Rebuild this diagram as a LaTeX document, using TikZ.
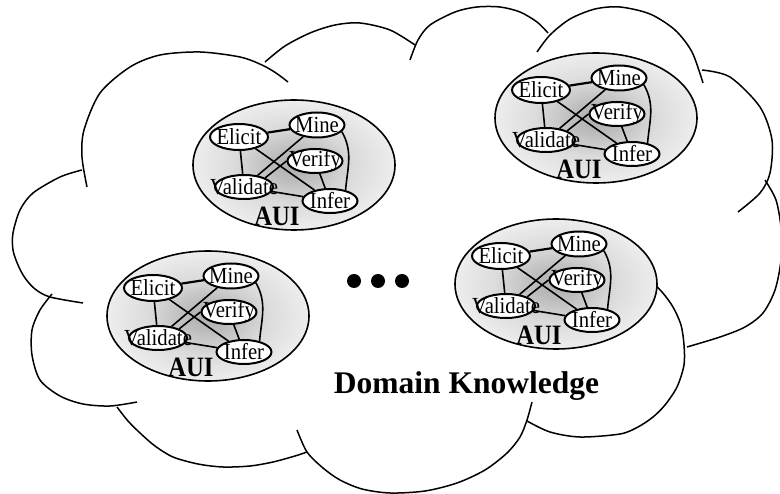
\documentclass[tikz,border=0pt]{standalone}
\usepackage{fontspec}
\setmainfont{Liberation Serif}
\usetikzlibrary{shapes.geometric}
\pgfdeclarelayer{back}
\pgfdeclarelayer{mid}
\pgfsetlayers{back,mid,main}
\pgfdeclareradialshading{auishade}{\pgfpoint{0bp}{0bp}}{color(0bp)=(black!32); color(6bp)=(black!26); color(15bp)=(black!14); color(25bp)=(black!7); color(50bp)=(black!7)}
\newcommand{\narrowtxt}[1]{\scalebox{0.9}[1]{#1}}
\tikzset{
  cloudline/.style={line width=1.5pt, line join=round},
  auibg/.style={draw, line width=1.6pt, shading=auishade},
  task/.style={ellipse, draw, line width=2pt, fill=white, inner sep=0pt},
  tasktxt/.style={font=\fontsize{23}{23}\selectfont, inner sep=0pt},
  auitxt/.style={font=\fontsize{28}{28}\selectfont\bfseries, inner sep=0pt},
  link/.style={line width=1.6pt},
  dotmark/.style={circle, fill=black, minimum size=14pt, inner sep=0pt},
  pics/aui/.style={code={
    \begin{pgfonlayer}{back}
      \path[auibg] (0,0) ellipse [x radius=101, y radius=65];
    \end{pgfonlayer}
    \node[task, minimum width=58, minimum height=26, label={[tasktxt]center:\narrowtxt{Elicit}}] (-el) at (-55,28) {};
    \node[task, minimum width=55, minimum height=25, label={[tasktxt]center:\narrowtxt{Mine}}] (-mi) at (23,40) {};
    \node[task, minimum width=55, minimum height=24, label={[tasktxt]center:\narrowtxt{Verify}}] (-ve) at (21,4) {};
    \node[task, minimum width=58, minimum height=24, label={[tasktxt]center:\narrowtxt{Validate}}] (-va) at (-50,-22) {};
    \node[task, minimum width=55, minimum height=24, label={[tasktxt]center:\narrowtxt{Infer}}] (-in) at (36,-36) {};
    \node[auitxt] (-lab) at (-17,-51) {\scalebox{0.88}[1]{AUI}};
    \begin{pgfonlayer}{mid}
      \draw[link, line width=2.2pt] (-el) -- (-mi);
      \draw[link] (-el) -- (-va);
      \draw[link] (-el) -- (-in);
      \draw[link] (-mi) -- (-va);
      \draw[link] (-ve.west) -- (-va.north east);
      \draw[link] (-va) -- (-in);
      \draw[link] (-ve) -- (-in);
      \draw[link] (-mi.-15) to[out=-60, in=85] (-in.35);
    \end{pgfonlayer}
  }}
}
\begin{document}
\begin{tikzpicture}[x=1pt, y=1pt]
\useasboundingbox (0,0) rectangle (780,-494);
\begin{pgfonlayer}{back}
  \fill[white] (0,0) rectangle (780,-494);
  % cloud lobes
  \draw[cloudline] plot[smooth] coordinates {(87,-187) (82,-157) (84,-130) (100,-93) (130,-67) (160,-55) (200,-52) (240,-57) (262,-65) (276,-73) (288,-82)};
  \draw[cloudline] plot[smooth] coordinates {(265,-62) (285,-46) (310,-33) (335,-25) (360,-23) (390,-30) (415,-45)};
  \draw[cloudline] plot[smooth] coordinates {(410,-60) (418,-40) (430,-25) (455,-12) (477,-7) (500,-7) (520,-12) (537,-22) (548,-33)};
  \draw[cloudline] plot[smooth] coordinates {(537,-52) (550,-35) (570,-19) (595,-9) (620,-7) (650,-14) (675,-30) (692,-52) (703,-83)};
  \draw[cloudline] plot[smooth] coordinates {(702,-70) (730,-77) (760,-107) (772,-140) (770,-173) (760,-193) (738,-212)};
  \draw[cloudline] plot[smooth] coordinates {(765,-180) (776,-200) (781,-228) (781,-260) (775,-290) (763,-313) (745,-327) (720,-337) (687,-347)};
  \draw[cloudline] plot[smooth] coordinates {(648,-278) (662,-292) (673,-307) (681,-325) (684,-345) (684,-365) (677,-387) (665,-405) (653,-417) (638,-427) (620,-434) (580,-437) (550,-432) (527,-421)};
  \draw[cloudline] plot[smooth] coordinates {(297,-430) (307,-452) (323,-468) (340,-480) (362,-489) (390,-493) (425,-491) (457,-483) (485,-470) (507,-453) (520,-437) (527,-420) (532,-402)};
  \draw[cloudline] plot[smooth] coordinates {(117,-407) (128,-421) (140,-433) (155,-446) (173,-457) (198,-464) (223,-467) (250,-466) (273,-462) (295,-456) (307,-452)};
  \draw[cloudline] plot[smooth] coordinates {(52,-294) (40,-310) (32,-330) (32,-355) (40,-380) (60,-396) (83,-404) (110,-406) (137,-402)};
  \draw[cloudline] plot[smooth] coordinates {(82,-170) (60,-177) (33,-193) (20,-210) (13,-233) (13,-250) (18,-265) (25,-278) (35,-289) (50,-297) (83,-303)};
\end{pgfonlayer}

\pic (A) at (294,-165) {aui};
\pic (B) at (596,-118) {aui};
\pic (C) at (208,-316) {aui};
\pic (D) at (556,-284) {aui};

\node[dotmark] (d1) at (354,-281) {};
\node[dotmark] (d2) at (378,-281) {};
\node[dotmark] (d3) at (402,-281) {};

\node[font=\fontsize{31.5}{31.5}\selectfont\bfseries, anchor=base, inner sep=0pt] (dk) at (466.5,-394) {Domain Knowledge};
\end{tikzpicture}
\end{document}
